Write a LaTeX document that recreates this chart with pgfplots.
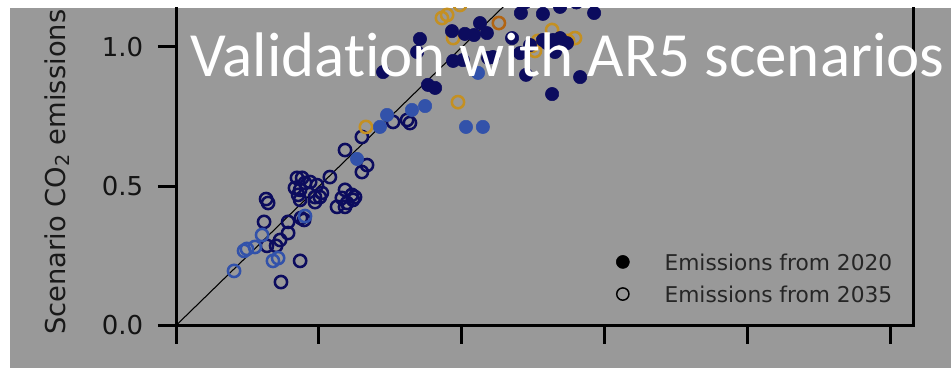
\documentclass[border=0pt]{standalone}
\usepackage{pgfplots}
\pgfplotsset{compat=1.18}
\usepackage{fontspec}
\setmainfont{DejaVu Sans}
\newfontfamily\titlefont[Ligatures={NoCommon,NoRequired,NoContextual}]{Carlito}
\definecolor{bggray}{RGB}{153,153,153}
\definecolor{cnavy}{RGB}{12,12,94}
\definecolor{cblue}{RGB}{50,82,170}
\definecolor{cgold}{RGB}{196,144,34}
\definecolor{corange}{RGB}{178,100,18}
\begin{document}
\begin{tikzpicture}
\useasboundingbox (0,0) rectangle (713.25pt,276pt);
\fill[white] (0,0) rectangle (713.25pt,276pt);
\begin{scope}
\clip (7.5pt,0) rectangle (713.25pt,270pt);
\fill[bggray] (7.5pt,0) rectangle (713.25pt,270pt);
\begin{axis}[
  at={(132pt,31.875pt)}, anchor=south west,
  scale only axis, width=552.75pt, height=271.54pt,
  xmin=0, xmax=2.577, ymin=0, ymax=1.3,
  axis line style={line width=2.25pt, black},
  xtick={0,0.5,1,1.5,2,2.5}, xticklabels={},
  ytick={0,0.5,1},
  xtick pos=bottom, ytick pos=left,
  tick align=outside,
  major tick length=13.5pt,
  tick style={line width=2.25pt, black},
  /pgf/number format/assume math mode=true,
  yticklabel style={font=\fontsize{19.5}{22}\selectfont, text=black!92, xshift=-7.5pt, /pgf/number format/.cd, fixed, fixed zerofill, precision=1},
  legend image code/.code={\draw[#1] plot coordinates {(0pt,0pt)}; \path (-4.9pt,0pt) (30.75pt,0pt);},
  legend cell align=left,
  legend style={at={(axis cs:1.537,0.1706)}, anchor=west, draw=none, fill=none,
    inner sep=0pt, outer sep=0pt, row sep=11.7pt, column sep=0pt,
    font=\fontsize{16.3}{18}\selectfont, text=black!85,
    nodes={inner sep=0pt, text depth=0pt}},
]
\addlegendimage{only marks, mark=*, mark size=4.9pt, black}
\addlegendentry{Emissions from 2020}
\addlegendimage{only marks, mark=o, mark size=4.6pt, black, line width=1.1pt}
\addlegendentry{Emissions from 2035}

% 2035, navy open
\addplot[forget plot, only marks, mark=o, mark size=4.6pt, line width=1.9pt, cnavy] coordinates {
(0.538,0.533)(0.591,0.630)(0.650,0.677)(0.668,0.576)(0.650,0.551)
(0.759,0.731)(0.808,0.738)(0.818,0.727)
(0.591,0.487)(0.615,0.469)(0.580,0.458)(0.598,0.440)(0.626,0.461)(0.563,0.426)(0.591,0.426)
(0.423,0.530)(0.441,0.530)(0.451,0.512)(0.469,0.515)(0.493,0.504)(0.416,0.494)(0.434,0.487)
(0.427,0.469)(0.486,0.461)(0.503,0.461)(0.510,0.476)(0.434,0.451)(0.486,0.443)(0.619,0.451)
(0.315,0.454)(0.322,0.440)(0.308,0.372)(0.392,0.372)(0.437,0.386)(0.448,0.379)
(0.392,0.332)(0.364,0.307)(0.350,0.286)(0.318,0.286)(0.434,0.232)(0.367,0.156)
};
% 2035, blue open
\addplot[forget plot, only marks, mark=o, mark size=4.6pt, line width=1.9pt, cblue] coordinates {
(0.451,0.393)(0.301,0.325)(0.238,0.268)(0.248,0.275)(0.276,0.282)(0.339,0.232)(0.357,0.242)(0.203,0.196)
};
% 2035, gold open
\addplot[forget plot, only marks, mark=o, mark size=4.6pt, line width=1.9pt, cgold] coordinates {
(0.664,0.713)(0.986,0.802)(0.930,1.104)(0.948,1.115)(0.993,1.151)(0.969,1.032)
(1.315,1.061)(1.266,1.022)(1.245,1.004)(1.255,0.986)(1.371,1.022)(1.395,1.032)
};
% 2035, orange open
\addplot[forget plot, only marks, mark=o, mark size=4.6pt, line width=1.9pt, corange] coordinates {
(1.129,1.086)
};
% 2020, navy filled
\addplot[forget plot, only marks, mark=*, mark size=5pt, cnavy] coordinates {
(0.853,1.029)(0.843,0.982)(0.965,1.057)(1.010,1.047)(1.042,1.043)(1.063,1.086)(1.087,1.050)
(1.175,1.032)(0.969,0.950)(1.003,0.953)(1.091,0.961)(1.108,0.964)(0.881,0.864)(0.906,0.853)
(0.724,0.910)(1.206,1.122)(1.283,1.119)(1.343,1.144)(1.462,1.122)(1.203,0.978)(1.224,0.900)
(1.297,1.014)(1.318,1.025)(1.343,1.032)(1.367,1.014)(1.325,0.982)(1.413,0.892)(1.315,0.831)
(1.238,1.007)(1.283,1.025)(1.220,1.160)(1.100,1.170)(1.400,1.160)
};
% 2020, blue filled
\addplot[forget plot, only marks, mark=*, mark size=5pt, cblue] coordinates {
(1.056,0.907)(0.738,0.756)(0.713,0.713)(0.825,0.774)(0.871,0.788)(1.014,0.713)(1.073,0.713)(0.633,0.598)
};
% 1:1 line
\addplot[forget plot, black, line width=0.8pt] coordinates {(0,0)(2.577,2.577)};
\end{axis}
\end{scope}
\node[rotate=90, anchor=base west, inner sep=0pt, font=\fontsize{20.5}{24}\selectfont, text=black!90] at (48.75pt,24.75pt) {Scenario CO\textsubscript{2} emissions};
\node[anchor=base west, inner sep=0pt, text=white, font=\titlefont\fontsize{47.2}{50}\selectfont] at (142.5pt,218.25pt) {Validation with AR5 scenarios};
\end{tikzpicture}
\end{document}
